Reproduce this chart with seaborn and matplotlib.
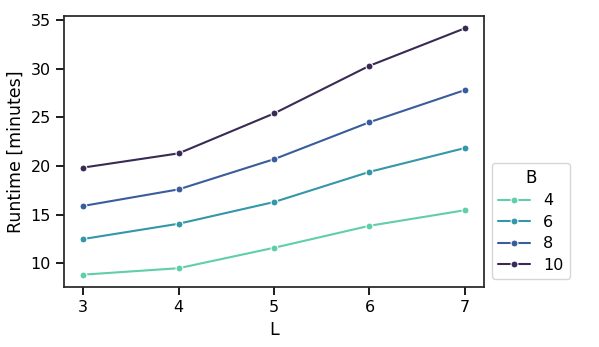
import numpy as np
import pandas as pd
import matplotlib
matplotlib.use("Agg")
import matplotlib.pyplot as plt
import seaborn as sns

# Runtime vs L for each B
L_vals = [3, 4, 5, 6, 7]
B_vals = [4, 6, 8, 10]
runtime_b4 = [8.84, 9.5, 11.6, 13.86, 15.46]
runtime_b6 = [12.5, 14.07, 16.3, 19.4, 21.85]
runtime_b8 = [15.9, 17.6, 20.7, 24.5, 27.8]
runtime_b10 = [19.84, 21.3, 25.4, 30.3, 34.15]

rows = []
for b, vals in zip(B_vals, [runtime_b4, runtime_b6, runtime_b8, runtime_b10]):
    for l, v in zip(L_vals, vals):
        rows.append({"L": l, "B": str(b), "Runtime": v})
df = pd.DataFrame(rows)

sns.set_theme(style="ticks", context="notebook", rc={
    "text.color": "black", "axes.labelcolor": "black",
    "xtick.color": "black", "ytick.color": "black",
    "xtick.labelsize": 11.5, "ytick.labelsize": 11.5,
    "axes.labelsize": 12.5, "legend.fontsize": 11.5,
    "legend.title_fontsize": 12,
})

fig, ax = plt.subplots(figsize=(5.99, 3.47), dpi=100)
sns.lineplot(data=df, x="L", y="Runtime", hue="B", marker="o", markersize=5,
             palette=sns.color_palette("mako_r", 4), ax=ax)
ax.set_xticks(L_vals)
ax.set_ylabel("Runtime [minutes]")
ax.set_xlabel("L")
sns.move_legend(ax, "lower left", bbox_to_anchor=(1, 0), title="B",
                labelspacing=0.4, handlelength=2.0)

fig.subplots_adjust(left=0.107, right=0.808, top=0.954, bottom=0.173)
fig.savefig("out.png", dpi=100)
